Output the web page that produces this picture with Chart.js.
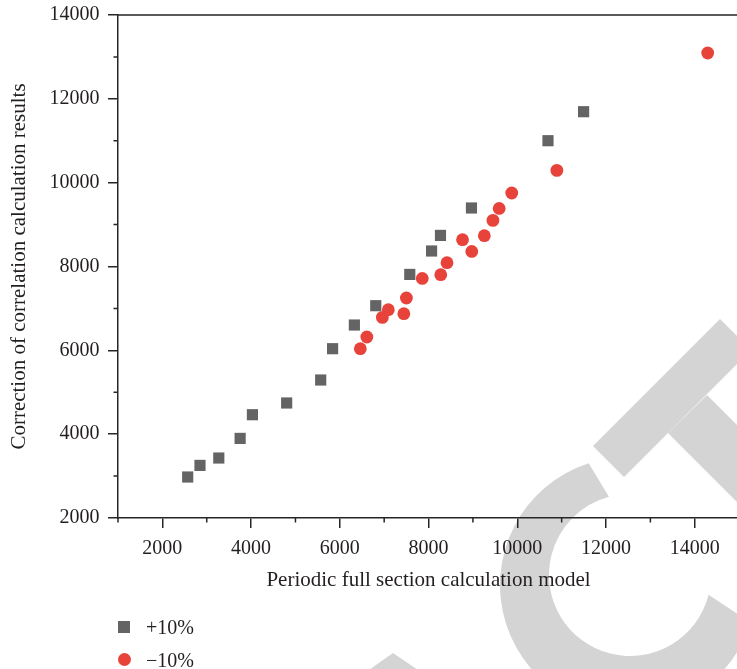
<!DOCTYPE html>
<html>
<head>
<meta charset="utf-8">
<script src="https://cdn.jsdelivr.net/npm/chart.js@4.4.1/dist/chart.umd.min.js"></script>
<style>
  html, body { margin: 0; padding: 0; background: #ffffff; overflow: hidden; width: 737px; height: 669px; }
  #wrap { position: relative; width: 747px; height: 669px; }
  canvas { display: block; }
  #legend { position: absolute; left: 0; top: 0; font-family: "Liberation Serif", "Times New Roman", serif; font-size: 20px; color: #231f20; }
  .item { position: absolute; display: flex; align-items: center; height: 20px; line-height: 20px; white-space: nowrap; }
  .mkbox { width: 14px; height: 20px; display: flex; align-items: center; justify-content: center; margin-right: 15px; }
</style>
</head>
<body>
<div id="wrap">
  <canvas id="c" width="747" height="669"></canvas>
  <div id="legend"></div>
</div>
<script>
// ---- data ----
const seriesNames = ['+10%', '\u221210%'];
const plusX  = [2571, 2848, 3272, 3753, 4030, 4802, 5569, 5837, 6328, 6810, 7577, 8068, 8269, 8967, 10692, 11495];
const plusY  = [2978, 3255, 3431, 3899, 4464, 4744, 5292, 6039, 6604, 7065, 7811, 8370, 8742, 9396, 11001, 11693];
const minusX = [6462, 6609, 6959, 7093, 7443, 7501, 7858, 8275, 8416, 8974, 8766, 9257, 9451, 9592, 9875, 10892, 14292];
const minusY = [6039, 6318, 6786, 6969, 6874, 7248, 7716, 7804, 8091, 8360, 8639, 8735, 9100, 9386, 9753, 10293, 13093];
const xTickValues  = [2000, 4000, 6000, 8000, 10000, 12000, 14000];
const yTickValues  = [2000, 4000, 6000, 8000, 10000, 12000, 14000];
const xMinorValues = [1000, 3000, 5000, 7000, 9000, 11000, 13000, 15000];
const yMinorValues = [3000, 5000, 7000, 9000, 11000, 13000];
const xTitle = 'Periodic full section calculation model';
const yTitle = 'Correction of correlation calculation results';

// ---- styles ----
const SERIF = '"Liberation Serif", "Times New Roman", serif';
const AX = '#262626';
const TXT = '#231f20';
const GRAY = '#646464';
const RED = '#e8433b';

const toPoints = (xs, ys) => xs.map((v, i) => ({ x: v, y: ys[i] }));

const watermark = {
  id: 'watermark',
  beforeDraw(chart) {
    const ctx = chart.ctx;
    const ang = (dx, dy) => Math.atan2(dy, dx);
    ctx.save();
    ctx.fillStyle = '#d4d4d4';
    // C
    ctx.beginPath();
    ctx.arc(628, 585, 128, ang(-40, -124), ang(124, 38), true);
    ctx.arc(630, 575, 81, ang(80, 20), ang(-21, -78), false);
    ctx.closePath();
    ctx.fill();
    // T crossbar
    ctx.beginPath();
    ctx.moveTo(593, 446); ctx.lineTo(720, 319); ctx.lineTo(751, 350); ctx.lineTo(624, 477);
    ctx.closePath(); ctx.fill();
    // T stem
    ctx.beginPath();
    ctx.moveTo(668, 433); ctx.lineTo(707, 395); ctx.lineTo(820, 508); ctx.lineTo(781, 546);
    ctx.closePath(); ctx.fill();
    // fragment bottom-left
    ctx.beginPath();
    ctx.moveTo(393, 653); ctx.lineTo(421, 672); ctx.lineTo(366, 672);
    ctx.closePath(); ctx.fill();
    ctx.restore();
  }
};

const frameAndMinor = {
  id: 'frameAndMinor',
  afterDraw(chart) {
    const { ctx, chartArea } = chart;
    const xs = chart.scales.x, ys = chart.scales.y;
    ctx.save();
    ctx.strokeStyle = AX;
    ctx.lineWidth = 1.5;
    ctx.beginPath();
    xMinorValues.forEach(v => {
      const px = xs.getPixelForValue(v);
      ctx.moveTo(px, chartArea.bottom);
      ctx.lineTo(px, chartArea.bottom + 4.5);
    });
    yMinorValues.forEach(v => {
      const py = ys.getPixelForValue(v);
      ctx.moveTo(chartArea.left, py);
      ctx.lineTo(chartArea.left - 4.5, py);
    });
    ctx.moveTo(chartArea.left, chartArea.top);
    ctx.lineTo(chartArea.right, chartArea.top);
    ctx.lineTo(chartArea.right, chartArea.bottom);
    ctx.stroke();
    ctx.restore();
  }
};

const noPad = s => { s.paddingTop = 0; s.paddingBottom = 0; s.paddingLeft = 0; s.paddingRight = 0; };

const chart = new Chart(document.getElementById('c'), {
  type: 'scatter',
  data: {
    datasets: [
      { label: seriesNames[0], data: toPoints(plusX, plusY), pointStyle: 'rect', pointRadius: 7.9, pointHoverRadius: 7.9,
        backgroundColor: GRAY, borderColor: GRAY, pointBorderWidth: 0 },
      { label: seriesNames[1], data: toPoints(minusX, minusY), pointStyle: 'circle', pointRadius: 6.4, pointHoverRadius: 6.4,
        backgroundColor: RED, borderColor: RED, pointBorderWidth: 0 }
    ]
  },
  options: {
    responsive: false,
    animation: false,
    devicePixelRatio: 1,
    layout: { padding: { top: 15, right: 1, left: 0, bottom: 0 } },
    plugins: { legend: { display: false }, tooltip: { enabled: false } },
    scales: {
      x: {
        type: 'linear', position: 'bottom', min: 1000, max: 15000,
        afterBuildTicks: s => { s.ticks = xTickValues.map(v => ({ value: v })); },
        afterFit: s => { s.height = 151; noPad(s); },
        grid: { drawOnChartArea: false, drawTicks: true, tickLength: 10, color: AX, lineWidth: 1.5 },
        border: { display: true, color: AX, width: 1.5 },
        ticks: { padding: 9, color: TXT, font: { family: SERIF, size: 20 }, maxRotation: 0, autoSkip: false,
                 callback: v => String(v) },
        title: { display: true, text: xTitle, color: TXT, font: { family: SERIF, size: 21 }, padding: { top: 0, bottom: 76 } }
      },
      y: {
        type: 'linear', position: 'left', min: 2000, max: 14000,
        afterBuildTicks: s => { s.ticks = yTickValues.map(v => ({ value: v })); },
        afterFit: s => { s.width = 118; noPad(s); },
        grid: { drawOnChartArea: false, drawTicks: true, tickLength: 10, color: AX, lineWidth: 1.5 },
        border: { display: true, color: AX, width: 1.5 },
        ticks: { padding: 8.5, color: TXT, font: { family: SERIF, size: 20 }, autoSkip: false,
                 callback: v => String(v) },
        title: { display: true, text: yTitle, color: TXT, font: { family: SERIF, size: 21 }, padding: { top: 7, bottom: 0 } }
      }
    }
  },
  plugins: [watermark, frameAndMinor]
});

// ---- HTML legend built from the chart's datasets ----
const legendEl = document.getElementById('legend');
chart.data.datasets.forEach((ds, i) => {
  const row = document.createElement('div');
  row.className = 'item';
  row.style.left = '117px';
  row.style.top = (616.5 + i * 33) + 'px';
  const box = document.createElement('span');
  box.className = 'mkbox';
  const mk = document.createElement('span');
  if (ds.pointStyle === 'rect') {
    mk.style.cssText = 'display:block;width:12px;height:12px;background:' + ds.backgroundColor + ';';
  } else {
    mk.style.cssText = 'display:block;width:13px;height:13px;border-radius:50%;background:' + ds.backgroundColor + ';';
  }
  box.appendChild(mk);
  const label = document.createElement('span');
  label.textContent = ds.label;
  row.appendChild(box);
  row.appendChild(label);
  legendEl.appendChild(row);
});
</script>
</body>
</html>
